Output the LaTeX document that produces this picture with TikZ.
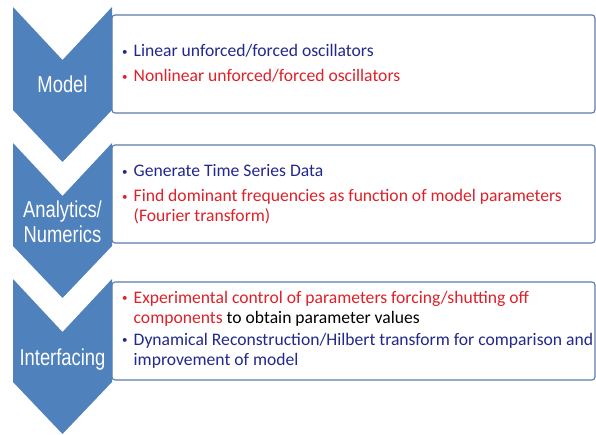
\documentclass[tikz,border=0pt]{standalone}
\usepackage{fontspec}
\usepackage{graphicx}
\setmainfont{Carlito}
\newfontfamily\chevfont{Liberation Sans}

\definecolor{chevblue}{HTML}{4F81BD}
\definecolor{boxline}{HTML}{5B7BAE}
\definecolor{itemblue}{HTML}{22288C}
\definecolor{itemred}{HTML}{DE2129}

\newcommand{\bul}{{\fontsize{11}{11}\selectfont\raisebox{1.5pt}{\textbullet}}}
\newcommand{\narrow}[1]{\scalebox{0.8}[1]{#1}}

\tikzset{
    infobox/.style={draw=boxline, line width=1.1pt, fill=white, rounded corners=3pt,
        minimum width=483pt, minimum height=98pt, inner sep=0pt},
    items/.style={inner sep=0pt, anchor=base west, font=\fontsize{17.6}{20}\selectfont},
    chevlabel/.style={text=white, inner sep=0pt, align=center,
        font=\chevfont\fontsize{23}{25}\selectfont}
}

\begin{document}
\begin{tikzpicture}[x=1pt, y=-1pt]
\useasboundingbox (0,0) rectangle (596,435);
\node[infobox] (modelbox) at (353.5, 64){};
\node[infobox] (numbox) at (353.5, 194){};
\node[infobox] (interbox) at (353.5, 331){};
\foreach \t in {7, 143, 279}
    \fill[chevblue] (13,\t) -- (62.5,\t+53) -- (112,\t) -- (112,\t+103)
        -- (62.5,\t+155) -- (13,\t+103) -- cycle;
\node[chevlabel, anchor=base] (model) at (62.5, 93){\narrow{Model}};
\node[chevlabel] (num) at (62.5, 222){\narrow{Analytics/}\\\narrow{Numerics}};
\node[chevlabel, anchor=base] (inter) at (62.5, 365){\narrow{Interfacing}};
\node[items] (modeltext) at (122, 57){\begin{tabular}[t]{@{}l@{\hspace{6pt}}l@{}}
    \color{itemblue}\bul & \color{itemblue}Linear unforced/forced oscillators\\[5pt]
    \color{itemred}\bul & \color{itemred}Nonlinear unforced/forced oscillators
    \end{tabular}};
\node[items] (numtext) at (122, 177){\begin{tabular}[t]{@{}l@{\hspace{6pt}}l@{}}
    \color{itemblue}\bul & \color{itemblue}Generate Time Series Data\\[5pt]
    \color{itemred}\bul & \color{itemred}Find dominant frequencies as function of model parameters\\
     & \color{itemred}(Fourier transform)
    \end{tabular}};
\node[items] (intertext) at (122, 303){\begin{tabular}[t]{@{}l@{\hspace{6pt}}l@{}}
    \color{itemred}\bul & \color{itemred}Experimental control of parameters forcing/shutting off\\
     & \textcolor{itemred}{components} to obtain parameter values\\[2pt]
    \color{itemblue}\bul & \color{itemblue}Dynamical Reconstruction/Hilbert transform for comparison and\\
     & \color{itemblue}improvement of model
    \end{tabular}};
\end{tikzpicture}
\end{document}
